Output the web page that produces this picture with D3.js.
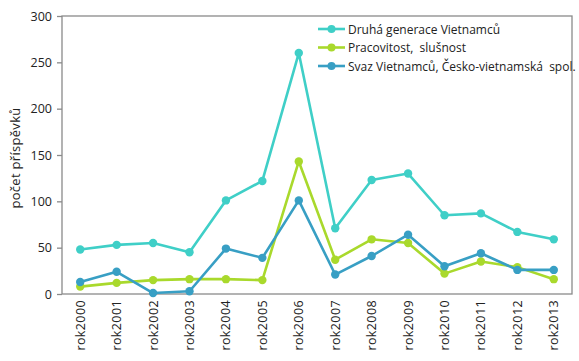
<!DOCTYPE html>
<html>
<head>
<meta charset="utf-8">
<script src="https://cdn.jsdelivr.net/npm/d3@7"></script>
<style>
  body { margin: 0; background: #fff; }
  svg text { font-family: "Open Sans", "DejaVu Sans", sans-serif; fill: #222; }
</style>
</head>
<body>
<div id="chart"></div>
<script>
let years = ["rok2000", "rok2001", "rok2002", "rok2003", "rok2004", "rok2005", "rok2006",
             "rok2007", "rok2008", "rok2009", "rok2010", "rok2011", "rok2012", "rok2013"]

let druha_generace = [48, 53, 55, 45, 101, 122, 260, 71, 123, 130, 85, 87, 67, 59]
let pracovitost = [8, 12, 15, 16, 16, 15, 143, 37, 59, 55, 22, 35, 29, 16]
let svaz = [13, 24, 1, 3, 49, 39, 101, 21, 41, 64, 30, 44, 26, 26]

let series_names = ["Druhá generace Vietnamců", "Pracovitost,  slušnost", "Svaz Vietnamců, Česko-vietnamská  spol."]
let y_ticks = [0, 50, 100, 150, 200, 250, 300]

let colors = ["#3fcfc7", "#a9d92c", "#389fc4"]
let series = [druha_generace, pracovitost, svaz]

let w = 579, h = 361
let plot_left = 62, plot_right = 572, plot_top = 16, plot_bottom = 294

let svg = d3.select("#chart").append("svg")
    .attr("width", w)
    .attr("height", h)

let x = d3.scalePoint().domain(years).range([plot_left, plot_right]).padding(0.5)
let y = d3.scaleLinear().domain([0, 300]).range([plot_bottom, plot_top])

// frame
svg.append("rect")
    .attr("x", plot_left).attr("y", plot_top)
    .attr("width", plot_right - plot_left).attr("height", plot_bottom - plot_top)
    .attr("fill", "none")
    .attr("stroke", "#8a8a8a")
    .attr("stroke-width", 1.3)

// y axis
let yAxis = svg.append("g")
    .attr("transform", `translate(${plot_left},0)`)
    .call(d3.axisLeft(y).tickValues(y_ticks).tickSize(5).tickPadding(5))
yAxis.select(".domain").remove()
yAxis.selectAll("line").attr("stroke", "#8a8a8a").attr("stroke-width", 1.3)
yAxis.selectAll("text").attr("font-size", 12.5).attr("fill", "#222")

// x labels
svg.append("g").selectAll("text")
    .data(years)
    .enter()
    .append("text")
    .attr("transform", d => `translate(${x(d) + 4.5},${plot_bottom + 6}) rotate(-90)`)
    .attr("text-anchor", "end")
    .attr("font-size", 12.5)
    .attr("letter-spacing", 0.4)
    .text(d => d)

// y title
svg.append("text")
    .attr("transform", `translate(20,${(plot_top + plot_bottom) / 2 + 3}) rotate(-90)`)
    .attr("text-anchor", "middle")
    .attr("font-size", 13)
    .attr("letter-spacing", 0.3)
    .text("počet příspěvků")

let line = d3.line().x((d, i) => x(years[i])).y(d => y(d))

series.forEach((vals, s) => {
    let g = svg.append("g")
    g.append("path")
        .datum(vals)
        .attr("d", line)
        .attr("fill", "none")
        .attr("stroke", colors[s])
        .attr("stroke-width", 2.6)
        .attr("stroke-linejoin", "round")
    g.selectAll("circle")
        .data(vals)
        .enter()
        .append("circle")
        .attr("cx", (d, i) => x(years[i]))
        .attr("cy", d => y(d))
        .attr("r", 4.2)
        .attr("fill", colors[s])
})

// legend
let legend = svg.append("g")
series_names.forEach((name, i) => {
    let ly = 29 + i * 18.5
    legend.append("line")
        .attr("x1", 318).attr("x2", 345)
        .attr("y1", ly).attr("y2", ly)
        .attr("stroke", colors[i])
        .attr("stroke-width", 2.6)
    legend.append("circle")
        .attr("cx", 331.5).attr("cy", ly).attr("r", 4)
        .attr("fill", colors[i])
    legend.append("text")
        .attr("x", 348).attr("y", ly + 4.5)
        .attr("font-size", 12)
        .style("white-space", "pre")
        .text(name)
})
</script>
</body>
</html>
